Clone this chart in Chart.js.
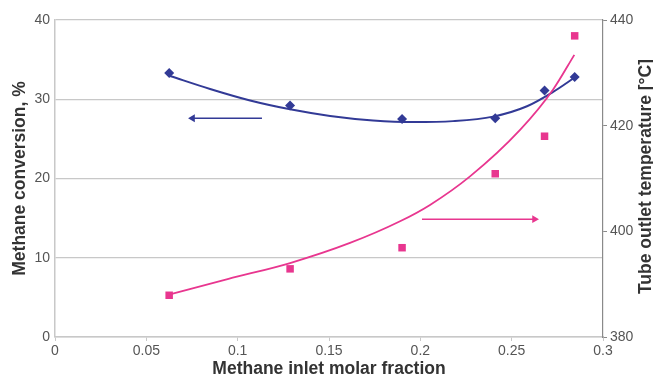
<!DOCTYPE html>
<html>
<head>
<meta charset="utf-8">
<script src="https://cdn.jsdelivr.net/npm/chart.js@4/dist/chart.umd.min.js"></script>
<style>
  html, body { margin: 0; padding: 0; background: #ffffff; }
  canvas { display: block; }
</style>
</head>
<body>
<canvas id="chart" width="653" height="378"></canvas>
<script>
// Measured points
const molarFraction = [0.0625, 0.1287, 0.190, 0.241, 0.268, 0.2845];
const conversion    = [33.3, 29.2, 27.5, 27.6, 31.1, 32.8];
const outletTemp    = [387.9, 392.9, 396.9, 410.9, 418.0, 437.0];

// Trend line through the conversion points
const conversionTrendX = [0.0630, 0.0849, 0.1068, 0.1287, 0.1506, 0.1741, 0.1960, 0.2179, 0.2398, 0.2584, 0.2727, 0.2847];
const conversionTrend  = [32.94, 31.30, 29.85, 28.74, 27.90, 27.33, 27.12, 27.24, 27.81, 29.12, 30.93, 32.78];

// Trend line through the outlet temperature points
const tempTrendX = [0.0624, 0.0950, 0.1287, 0.1615, 0.1889, 0.2053, 0.2272, 0.2546, 0.2726, 0.2843];
const tempTrend  = [388.0, 391.0, 394.0, 397.8, 401.9, 405.0, 410.4, 419.2, 426.8, 433.4];

// Arrows telling which axis each series belongs to
const conversionArrowX = [0.1133, 0.0753];
const conversionArrowY = [27.6, 27.6];
const tempArrowX = [0.2009, 0.2625];
const tempArrowY = [402.3, 402.3];

// Axis ticks
const xTicks = [0, 0.05, 0.1, 0.15, 0.2, 0.25, 0.3];
const leftTicks = [0, 10, 20, 30, 40];
const rightTicks = [380, 400, 420, 440];

const BLUE = '#323a96';
const PINK = '#e8368f';
const FONT = "'Liberation Sans', Arial, Helvetica, sans-serif";

const pairs = (xs, ys) => xs.map((x, i) => ({ x: x, y: ys[i] }));

const rightTitle = {
  id: 'rightTitle',
  afterDraw(chart) {
    const ctx = chart.ctx;
    const area = chart.chartArea;
    ctx.save();
    ctx.translate(646, (area.top + area.bottom) / 2 - 2);
    ctx.rotate(-Math.PI / 2);
    ctx.font = 'bold 17.5px ' + FONT;
    ctx.fillStyle = '#333333';
    ctx.textAlign = 'center';
    ctx.textBaseline = 'middle';
    ctx.fillText('Tube outlet temperature [°C]', 0, 0);
    ctx.restore();
  }
};

new Chart(document.getElementById('chart'), {
  type: 'scatter',
  data: {
    datasets: [
      {
        data: pairs(molarFraction, conversion),
        yAxisID: 'y',
        pointStyle: 'rectRot',
        pointRadius: 5,
        pointBackgroundColor: BLUE,
        pointBorderWidth: 0,
        showLine: false
      },
      {
        data: pairs(molarFraction, outletTemp),
        yAxisID: 'y2',
        pointStyle: 'rect',
        pointRadius: 5.3,
        pointBackgroundColor: PINK,
        pointBorderWidth: 0,
        showLine: false
      },
      {
        data: pairs(tempTrendX, tempTrend),
        yAxisID: 'y2',
        showLine: true,
        borderColor: PINK,
        borderWidth: 1.8,
        pointRadius: 0,
        cubicInterpolationMode: 'monotone'
      },
      {
        data: pairs(conversionTrendX, conversionTrend),
        yAxisID: 'y',
        showLine: true,
        borderColor: BLUE,
        borderWidth: 2,
        pointRadius: 0,
        cubicInterpolationMode: 'monotone'
      },
      {
        data: pairs(conversionArrowX, conversionArrowY),
        yAxisID: 'y',
        showLine: true,
        borderColor: BLUE,
        borderWidth: 1.6,
        pointStyle: 'triangle',
        pointRotation: -90,
        pointRadius: [0, 4.5],
        pointBackgroundColor: BLUE,
        pointBorderWidth: 0
      },
      {
        data: pairs(tempArrowX, tempArrowY),
        yAxisID: 'y2',
        showLine: true,
        borderColor: PINK,
        borderWidth: 1.4,
        pointStyle: 'triangle',
        pointRotation: 90,
        pointRadius: [0, 4.5],
        pointBackgroundColor: PINK,
        pointBorderWidth: 0
      }
    ]
  },
  options: {
    responsive: false,
    animation: false,
    devicePixelRatio: 1,
    layout: { padding: { top: 20, left: 0, right: 0, bottom: 0 } },
    plugins: { legend: { display: false }, tooltip: { enabled: false } },
    scales: {
      x: {
        type: 'linear',
        min: 0, max: 0.3,
        afterFit(scale) { scale.height = 41; },
        afterBuildTicks(scale) { scale.ticks = xTicks.map(v => ({ value: v })); },
        grid: { drawOnChartArea: false, drawTicks: true, tickLength: 4, color: '#c8c8c8' },
        border: { display: true, color: '#c8c8c8', width: 1.5 },
        ticks: {
          padding: 2,
          color: '#555555',
          font: { family: FONT, size: 14 },
          callback: v => String(v)
        },
        title: {
          display: true,
          text: 'Methane inlet molar fraction',
          color: '#333333',
          font: { family: FONT, size: 17.5, weight: 'bold', lineHeight: 1 },
          padding: { top: 0, bottom: 0 }
        }
      },
      y: {
        position: 'left',
        min: 0, max: 40,
        afterFit(scale) { scale.width = 55; },
        afterBuildTicks(scale) { scale.ticks = leftTicks.map(v => ({ value: v })); },
        grid: { drawTicks: false, color: '#c8c8c8', lineWidth: 1.3 },
        border: { display: true, color: '#c8c8c8', width: 1.5 },
        ticks: {
          padding: 5,
          color: '#555555',
          font: { family: FONT, size: 14 }
        },
        title: {
          display: true,
          text: 'Methane conversion, %',
          color: '#333333',
          font: { family: FONT, size: 17.5, weight: 'bold', lineHeight: 1 },
          padding: { top: 11, bottom: 0 }
        }
      },
      y2: {
        position: 'right',
        min: 380, max: 440,
        afterFit(scale) { scale.width = 50; },
        afterBuildTicks(scale) { scale.ticks = rightTicks.map(v => ({ value: v })); },
        grid: { drawOnChartArea: false, drawTicks: true, tickLength: 4, color: '#8a8a8a' },
        border: { display: true, color: '#8a8a8a', width: 1.2 },
        ticks: {
          padding: 3,
          color: '#555555',
          font: { family: FONT, size: 14 }
        }
      }
    }
  },
  plugins: [rightTitle]
});
</script>
</body>
</html>
